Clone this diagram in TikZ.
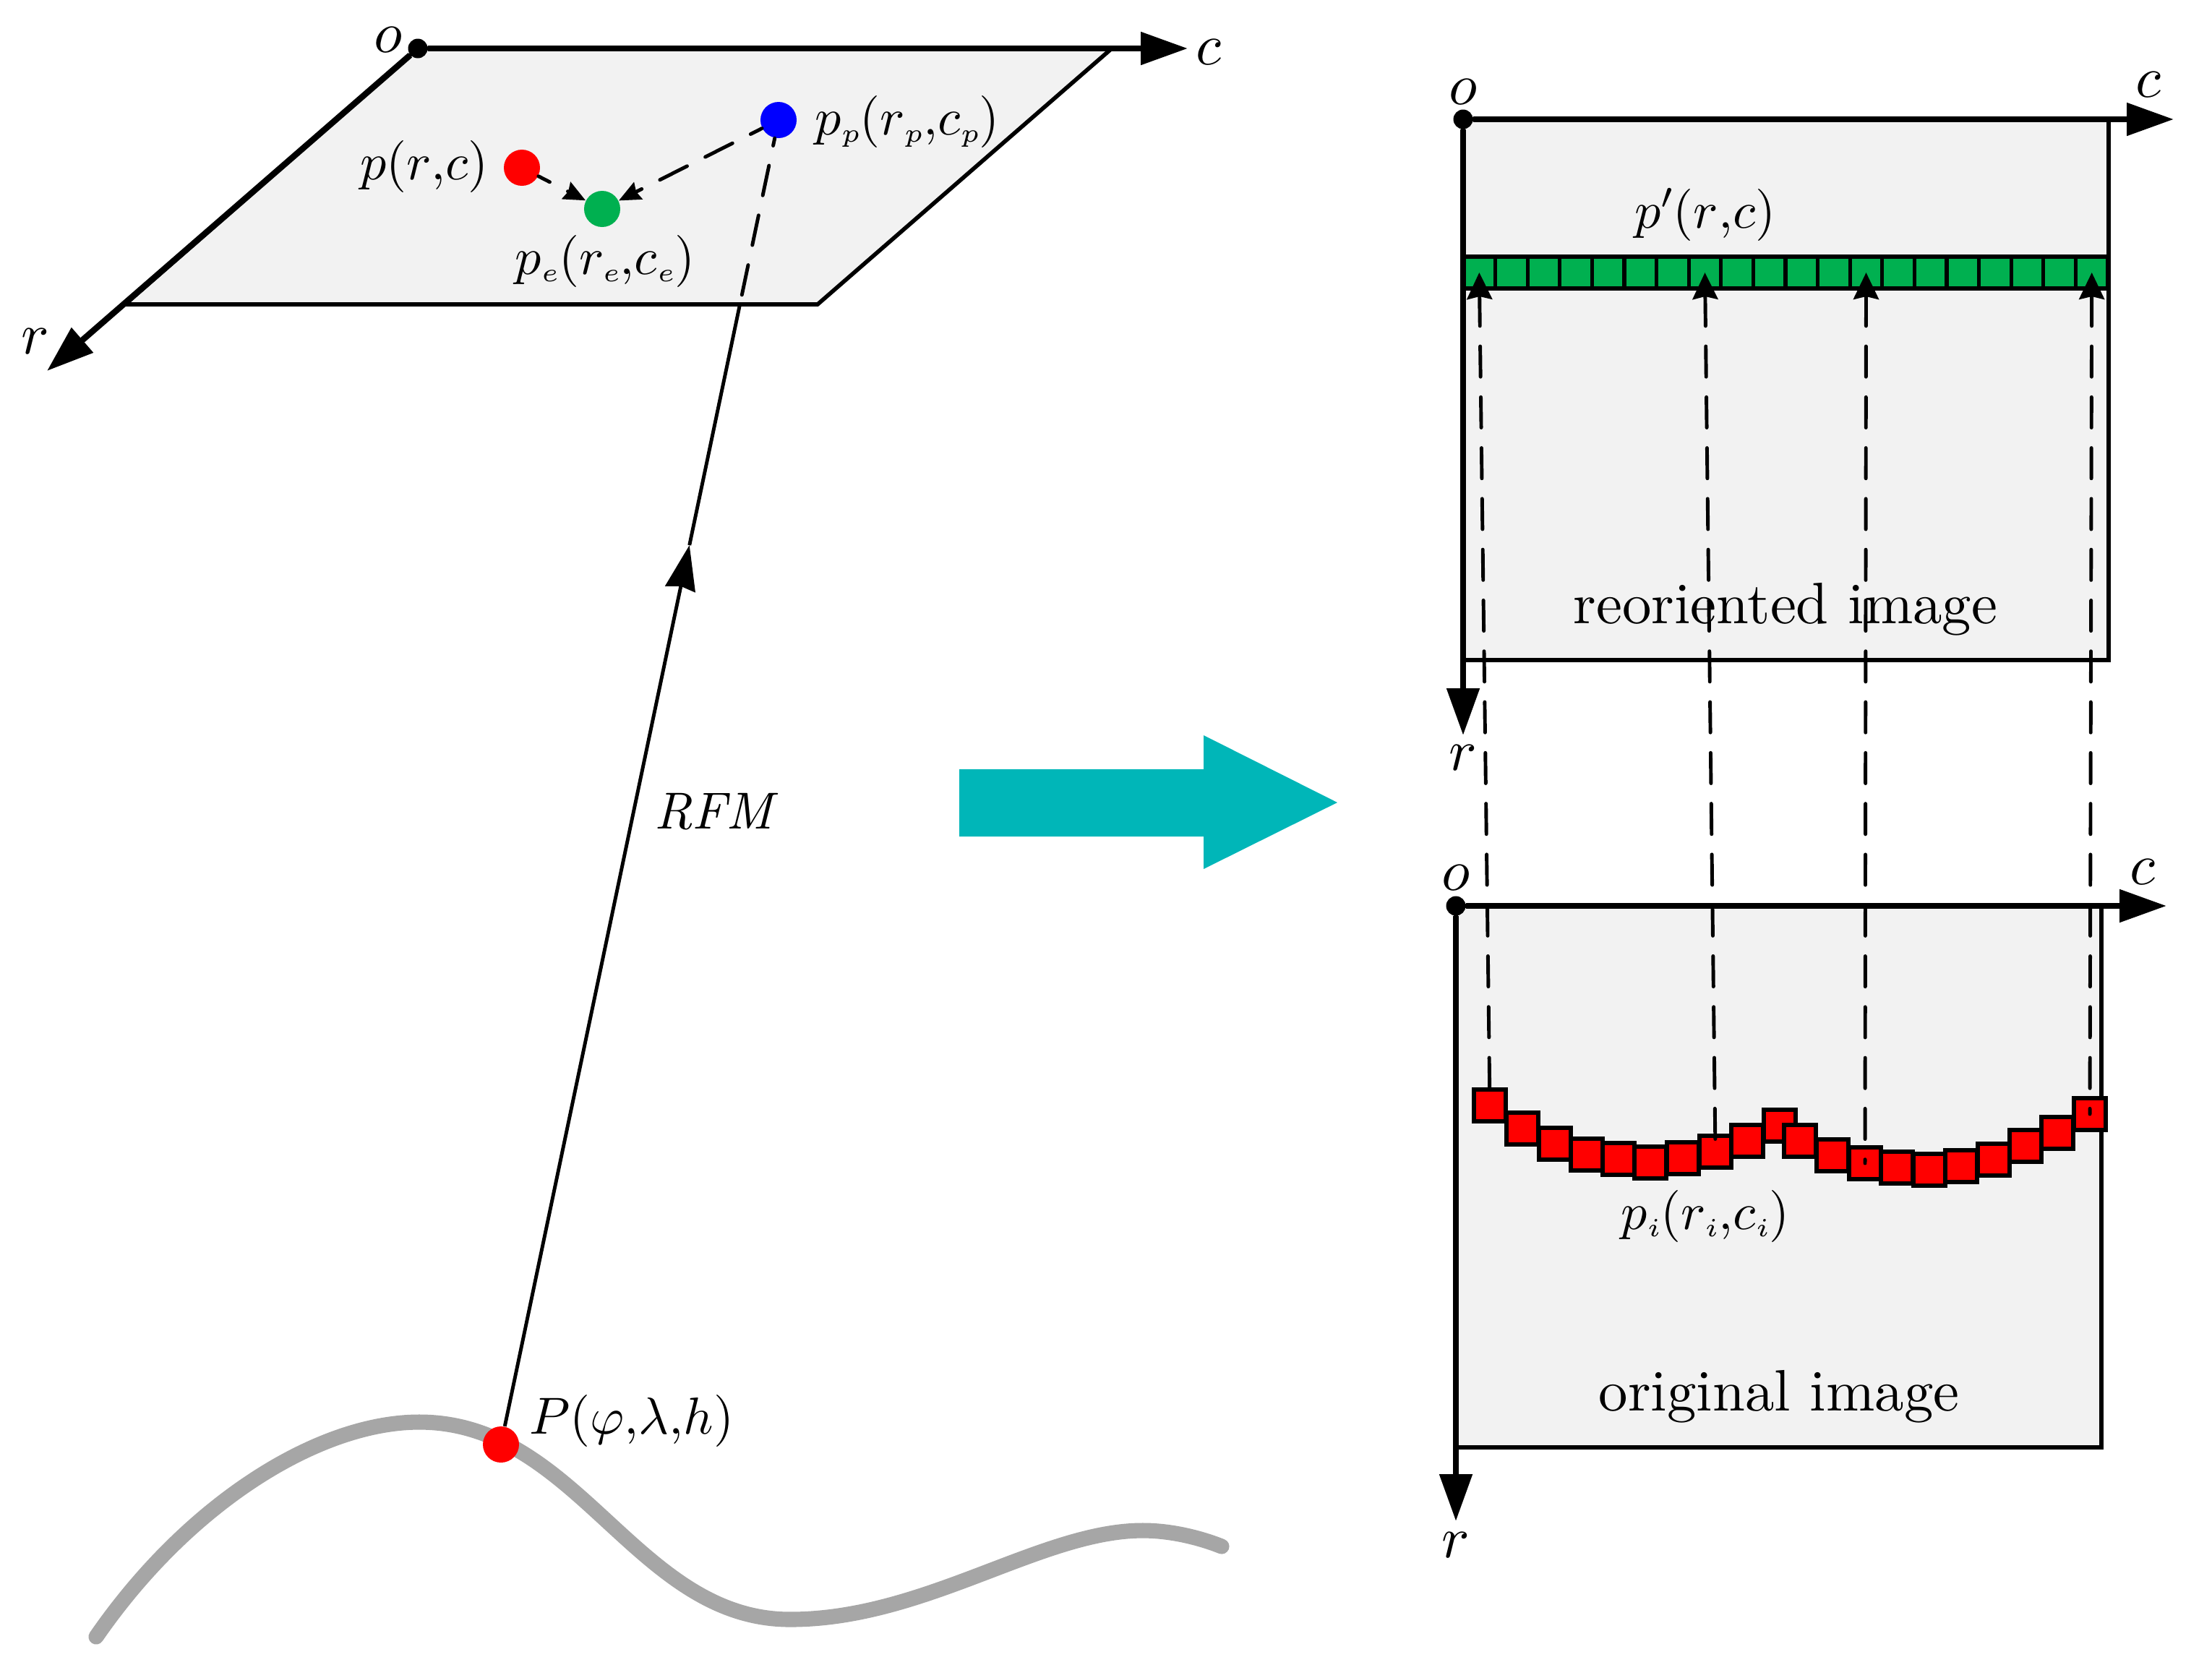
\documentclass[tikz,border=0pt]{standalone}
\usepackage{amsmath}
\usepackage{amssymb}
\usetikzlibrary{positioning,calc}
\usetikzlibrary{arrows.meta}
\definecolor{planegray}{HTML}{F2F2F2}
\definecolor{curvegray}{HTML}{A6A6A6}
\definecolor{cellgreen}{HTML}{00B050}
\definecolor{bigteal}{HTML}{00B6B8}
\scriptspace=0pt
\newcommand{\sbs}[1]{_{\scriptscriptstyle #1}}
\tikzstyle{lbl} = [scale=2.3, inner sep=0pt]
\tikzstyle{mlbl} = [scale=2.05, inner sep=0pt]
\tikzstyle{plane} = [draw=black, line width=1.6pt, fill=planegray]
\tikzstyle{axis} = [line width=2.4pt, -{Triangle[length=0.65cm,width=0.44cm]}]
\tikzstyle{arrow} = [line width=1.4pt, -{Stealth[length=0.62cm,width=0.42cm,inset=0.04cm]}]
\tikzstyle{dashline} = [line width=1.4pt, line cap=round, dash pattern=on 12pt off 8pt]
\tikzstyle{dasharrow} = [dashline, {Stealth[length=0.37cm,width=0.35cm,inset=0.04cm]}-]
\tikzstyle{dashto} = [dashline, -{Stealth[length=0.3cm,width=0.26cm,inset=0.03cm]}]
\tikzstyle{origin} = [circle, fill=black, inner sep=0pt, minimum size=0.27cm]
\tikzstyle{spot} = [circle, inner sep=0pt, minimum size=0.5cm]
\tikzstyle{cell} = [rectangle, draw=black, fill=cellgreen, line width=1.5pt, inner sep=0pt, minimum width=0.446cm, minimum height=0.44cm]
\tikzstyle{pixel} = [rectangle, draw=black, fill=red, line width=1.6pt, inner sep=0pt, minimum width=0.44cm, minimum height=0.44cm]
\begin{document}
\begin{tikzpicture}
	\useasboundingbox (0,0) rectangle (30.6,-23.2);
	% plane
	\draw[plane] (5.78,-0.67) -- (15.38,-0.67) -- (11.31,-4.21) -- (1.73,-4.21) -- cycle;
	\node (o1) at (5.78,-0.67) [origin] {};
	\coordinate (c1) at (16.43,-0.67);
	\coordinate (r1) at (0.65,-5.13);
	\draw[axis] (o1) -- (c1);
	\draw[axis] (o1) -- (r1);
	\node[lbl] (o1t) at (5.37,-0.55) {$o$};
	\node[lbl] (c1t) at (16.72,-0.72) {$c$};
	\node[lbl] (r1t) at (0.49,-4.72) {$r$};
	% ground
	\draw[curvegray, line width=6pt, line cap=round] (1.33,-22.64) .. controls (2.6,-20.8) and (4.4,-19.67) .. (5.80,-19.67) .. controls (8.0,-19.67) and (8.8,-22.40) .. (10.93,-22.40) .. controls (12.8,-22.40) and (14.4,-21.17) .. (15.81,-21.17) .. controls (16.2,-21.17) and (16.6,-21.27) .. (16.90,-21.39);
	% rays
	\node[spot, fill=red] (P) at (6.93,-19.98) {};
	\node[spot, fill=red] (p) at (7.22,-2.32) {};
	\node[spot, fill=cellgreen] (pe) at (8.33,-2.89) {};
	\node[spot, fill=blue] (pp) at (10.77,-1.66) {};
	\coordinate (q) at ($(P.center)!0.861!(pp.center)$);
	\coordinate (m) at ($(P.center)!0.679!(pp.center)$);
	\draw[arrow] (P) -- (m);
	\draw[line width=1.4pt] (m) -- (q);
	\draw[dashline, dash phase=9pt] (pp) -- (q);
	\draw[dashto, dash phase=7pt] (p) -- (pe);
	\draw[dashto, dash phase=7pt] (pp) -- (pe);
	\node[mlbl] (pt) at (5.87,-2.30) {$p(r{,}c)$};
	\node[mlbl] (ppt) at (12.55,-1.68) {$p\sbs{p}(r\sbs{p}{,}c\sbs{p})$};
	\node[mlbl] (pet) at (8.37,-3.61) {$p\sbs{e}(r\sbs{e}{,}c\sbs{e})$};
	\node[mlbl] (rfm) at (9.93,-11.22) {$\mathit{RFM}$};
	\node[mlbl] (Pt) at (8.74,-19.65) {$P(\varphi{,}\lambda{,}h)$};
	% big arrow
	\fill[bigteal] (13.27,-10.64) -- (16.65,-10.64) -- (16.65,-10.17) -- (18.50,-11.10) -- (16.65,-12.02) -- (16.65,-11.57) -- (13.27,-11.57) -- cycle;
	% reoriented image
	\draw[plane] (20.24,-1.65) rectangle (29.17,-9.13);
	\foreach \i in {1,...,20} {
		\node (g\i) at ({20.24+0.446*(\i-0.5)},-3.77) [cell] {};
	}
	\node (o2) at (20.24,-1.65) [origin] {};
	\coordinate (c2) at (30.07,-1.65);
	\coordinate (r2) at (20.24,-10.17);
	\draw[axis] (o2) -- (c2);
	\draw[axis] (o2) -- (r2);
	\node[lbl] (o2t) at (20.24,-1.27) {$o$};
	\node[lbl] (c2t) at (29.72,-1.17) {$c$};
	\node[lbl] (r2t) at (20.24,-10.48) {$r$};
	\node[mlbl] (pg) at (23.59,-2.97) {$p'(r{,}c)$};
	\node[lbl] (t2) at (24.70,-8.43) {reoriented image};
	% original image
	\draw[plane] (20.14,-12.53) rectangle (29.07,-20.02);
	\node (o3) at (20.14,-12.53) [origin] {};
	\coordinate (c3) at (29.97,-12.53);
	\coordinate (r3) at (20.14,-21.04);
	\draw[axis] (o3) -- (c3);
	\draw[axis] (o3) -- (r3);
	\node[lbl] (o3t) at (20.14,-12.14) {$o$};
	\node[lbl] (c3t) at (29.64,-12.06) {$c$};
	\node[lbl] (r3t) at (20.14,-21.37) {$r$};
	\foreach \i/\x/\y in {1/20.61/15.29, 2/21.06/15.61, 3/21.51/15.82, 4/21.95/15.97, 5/22.39/16.03, 6/22.83/16.08, 7/23.28/16.02, 8/23.73/15.93, 9/24.17/15.78, 10/24.62/15.57, 11/24.90/15.78, 12/25.35/15.98, 13/25.80/16.09, 14/26.24/16.15, 15/26.69/16.18, 16/27.13/16.13, 17/27.58/16.04, 18/28.02/15.85, 19/28.46/15.67, 20/28.91/15.41} {
		\node (s\i) at (\x,-\y) [pixel] {};
	}
	\node[mlbl] (pi) at (23.59,-16.82) {$p\sbs{i}(r\sbs{i}{,}c\sbs{i})$};
	\node[lbl] (t3) at (24.61,-19.32) {original image};
	% links
	\draw[dasharrow] (g1.center) -- (s1.center);
	\draw[dasharrow] (g8.center) -- (s8.center);
	\draw[dasharrow] (g13.center) -- (s13.center);
	\draw[dasharrow] (g20.center) -- (s20.center);
\end{tikzpicture}
\end{document}
